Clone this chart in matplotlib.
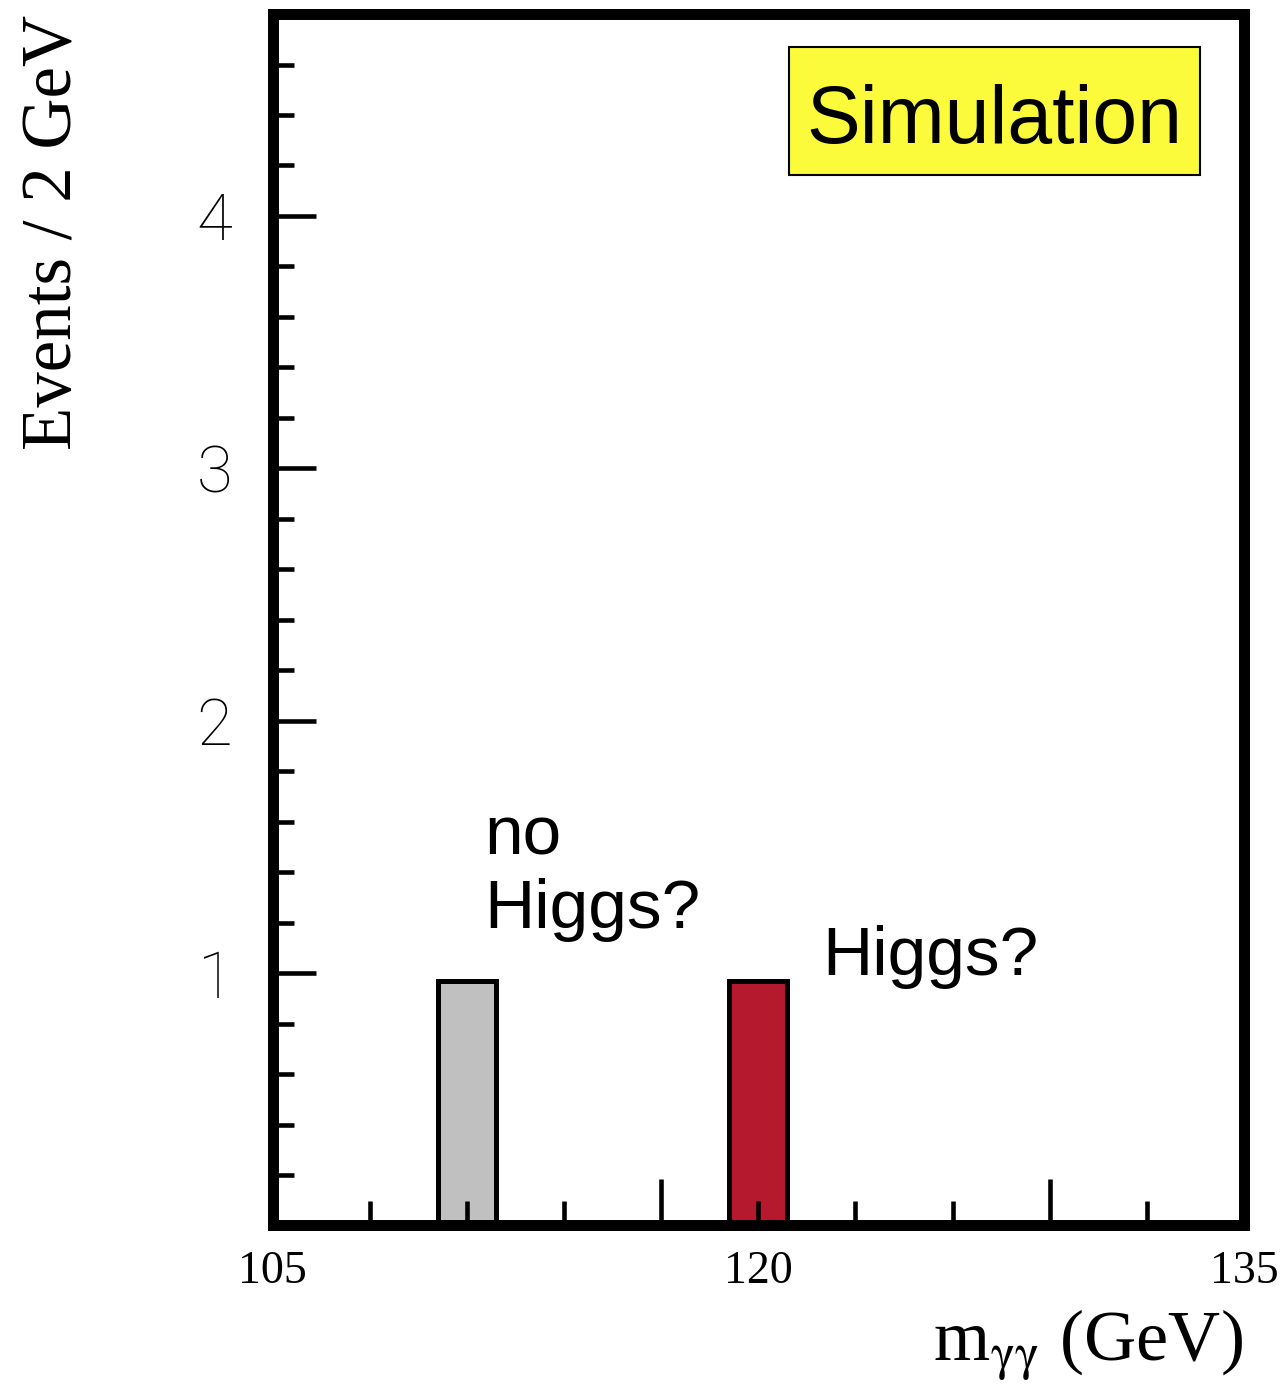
import matplotlib
matplotlib.use("Agg")
import matplotlib.pyplot as plt
import matplotlib.transforms as mtransforms
from matplotlib.patches import Rectangle

plt.rcParams["mathtext.fontset"] = "stix"

# histogram content (2 GeV bins, only two filled)
bin_centers = [111, 120]
bin_counts = [0.97, 0.97]
bin_width = 1.8
bin_colors = ["#c0c0c0", "#b5192d"]

x_range = (105, 135)
y_range = (0, 4.8)
x_labels = ["105", "120", "135"]
y_major = [1, 2, 3, 4]

SANS = "Liberation Sans"
SERIF = "Liberation Serif"

fig = plt.figure(figsize=(12.85, 13.91), dpi=100)
ax = fig.add_axes([0.2121, 0.1190, 0.7560, 0.8709])

ax.bar(bin_centers, bin_counts, width=bin_width, color=bin_colors,
       edgecolor="black", linewidth=3.6, zorder=1)

ax.set_xlim(*x_range)
ax.set_ylim(*y_range)

# frame
for sp in ax.spines.values():
    sp.set_linewidth(7.9)
    sp.set_capstyle("projecting")

# x axis: long ticks every 12 GeV from 105, short every 3 GeV, labels drawn by hand
ax.set_xticks([117, 129])
ax.set_xticks([108, 111, 114, 120, 123, 126, 132], minor=True)
ax.tick_params(axis="x", which="major", direction="in", length=33, width=3.3,
               labelbottom=False, top=False)
ax.tick_params(axis="x", which="minor", direction="in", length=17, width=3.3,
               top=False)

# y axis
ax.set_yticks(y_major)
ax.set_yticks([v / 5 for v in range(1, 24) if v % 5], minor=True)
ax.tick_params(axis="y", which="major", direction="in", length=31, width=3.3,
               pad=29, labelsize=47, right=False)
ax.tick_params(axis="y", which="minor", direction="in", length=15, width=3.3,
               right=False)
for lab in ax.get_yticklabels():
    lab.set_family(["Roboto", "DejaVu Sans"])
    lab.set_fontweight("light")

trans = mtransforms.blended_transform_factory(ax.transData, fig.transFigure)
for lab in x_labels:
    ax.text(float(lab), 1 - 1283 / 1391, lab, transform=trans, ha="center",
            va="baseline", fontsize=33, family=SERIF, clip_on=False)

# axis titles
fig.text(1243 / 1285, 1 - 1360 / 1391, r"m$_{\mathrm{\gamma\gamma}}$ (GeV)",
         ha="right", va="baseline", fontsize=52, family=SERIF)
fig.text(54 / 1285, 1 - 15 / 1391, "Events / 2 GeV", rotation=90,
         ha="center", va="top", fontsize=51, family=SERIF)

# annotations
ax.text(111.55, 1.468, "no", fontsize=50, family=SANS, va="baseline")
ax.text(111.55, 1.179, "Higgs?", fontsize=50, family=SANS, va="baseline")
ax.text(121.98, 0.9925, "Higgs?", fontsize=50, family=SANS, va="baseline")

# "Simulation" tag
fig.patches.append(Rectangle((789 / 1285, 1 - 175 / 1391), 411 / 1285, 128 / 1391,
                             transform=fig.transFigure, facecolor="#fbfb3c",
                             edgecolor="black", linewidth=1.5))
fig.text(994.5 / 1285, 1 - 143 / 1391, "Simulation", ha="center", va="baseline",
         fontsize=58, family=SANS)

fig.savefig("out.png", dpi=100)
